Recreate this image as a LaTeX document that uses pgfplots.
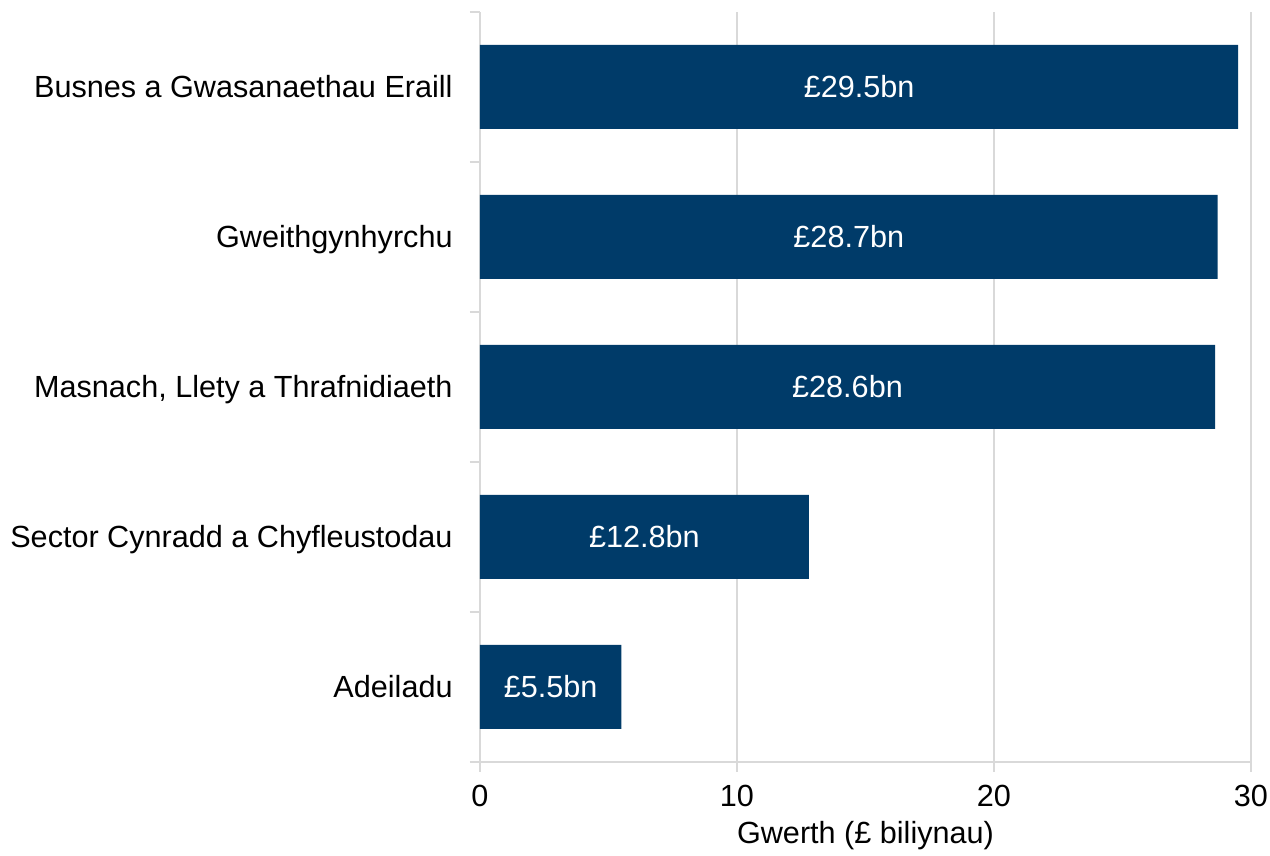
\documentclass[border=0pt]{standalone}
\usepackage{pgfplots}
\pgfplotsset{compat=1.18}
\usepackage{pgfplotstable}
\usepackage{fontspec}
\setmainfont{Liberation Sans}
\definecolor{navy}{RGB}{0,59,105}
\definecolor{gridgrey}{RGB}{217,217,217}
\pgfplotstableread[col sep=comma]{
y,v,label
0,5.5,£5.5bn
1,12.8,£12.8bn
2,28.6,£28.6bn
3,28.7,£28.7bn
4,29.5,£29.5bn
}\bars
\begin{document}
\begin{tikzpicture}
\begin{axis}[
  name=ax,
  scale only axis,
  width=385.5pt, height=375pt,
  xmin=0, xmax=30,
  ymin=-0.5, ymax=4.5,
  axis x line=bottom, axis y line=left,
  axis line style={draw=gridgrey, line width=1pt, -},
  xtick={0,10,20,30},
  ytick={0,1,2,3,4},
  yticklabels={Adeiladu, Sector Cynradd a Chyfleustodau, {Masnach, Llety a Thrafnidiaeth}, Gweithgynhyrchu, Busnes a Gwasanaethau Eraill},
  minor ytick={-0.5,0.5,1.5,2.5,3.5,4.5},
  tick align=outside,
  major tick length=5pt,
  minor tick length=5pt,
  major y tick style={draw=none},
  minor y tick style={draw=gridgrey, line width=1pt},
  major x tick style={draw=gridgrey, line width=1pt},
  xmajorgrids,
  major x grid style={draw=gridgrey, line width=1pt},
  /pgf/number format/assume math mode=true,
  tick label style={font=\fontsize{15.3}{18}\selectfont, text=black},
  yticklabel style={anchor=base east, inner sep=0pt, xshift=-8.5pt, yshift=-5.5pt},
  xticklabel style={anchor=north, inner sep=0pt, yshift=-6.5pt},
  xlabel={Gwerth (£ biliynau)},
  xlabel style={font=\fontsize{15.3}{18}\selectfont, at={(axis description cs:0.5,0)}, anchor=base, yshift=-41pt},
  clip=false,
]
\addplot[xbar, bar width=42pt, fill=navy, draw=none, bar shift=0pt] table[x=v, y=y] {\bars};
\addplot[draw=none, mark=none, nodes near coords, point meta=explicit symbolic,
  every node near coord/.append style={anchor=center, text=white, font=\fontsize{15.3}{18}\selectfont}]
  table[x expr=\thisrow{v}/2, y=y, meta=label] {\bars};
\end{axis}
\pgfresetboundingbox
\path (ax.south west) ++(-240pt,-47pt) rectangle ++(635pt,428pt);
\end{tikzpicture}
\end{document}
